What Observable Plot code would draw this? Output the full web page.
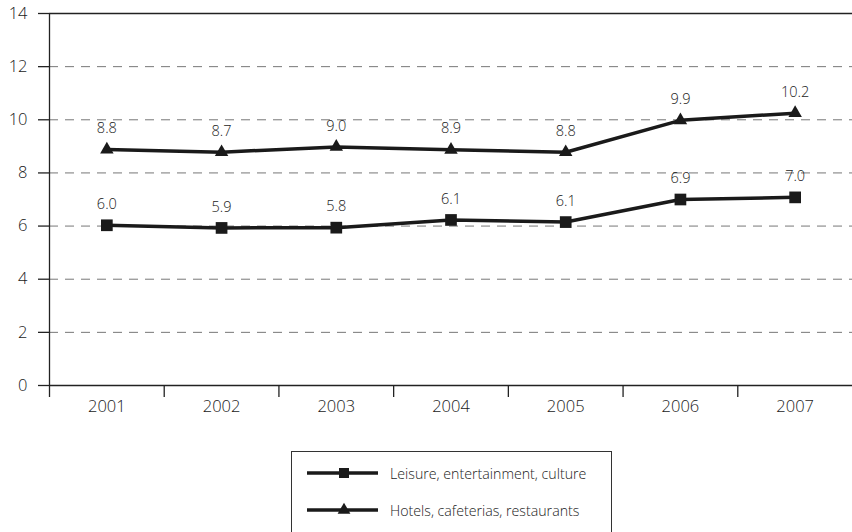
<!DOCTYPE html>
<html>
<head>
<meta charset="utf-8">
<script src="https://cdn.jsdelivr.net/npm/d3@7"></script>
<script src="https://cdn.jsdelivr.net/npm/@observablehq/plot@0.6"></script>
<style>
  html, body { margin: 0; padding: 0; background: #fff; }
  body { width: 852px; height: 532px; position: relative; overflow: hidden; font-family: "Open Sans", "Noto Sans", sans-serif; }
  #chart { position: absolute; left: 0; top: 0; }
  #legend { position: absolute; left: 291px; top: 451px; width: 321px; height: 95px; border: 1px solid #333; box-sizing: border-box; background: #fff; }
  .row { position: absolute; left: 15px; height: 20px; display: flex; align-items: center; font-size: 14.2px; font-weight: 300; color: #1a1a1a; }
  .row svg { margin-right: 11px; }
</style>
</head>
<body>
<div id="chart"></div>
<div id="legend"></div>
<script>
const years = [2001, 2002, 2003, 2004, 2005, 2006, 2007];
const seriesNames = ["Leisure, entertainment, culture", "Hotels, cafeterias, restaurants"];
const leisure = [6.03, 5.93, 5.94, 6.23, 6.15, 7.0, 7.08];
const hotels = [8.88, 8.78, 8.98, 8.87, 8.78, 9.98, 10.25];
const leisureLabels = ["6.0", "5.9", "5.8", "6.1", "6.1", "6.9", "7.0"];
const hotelsLabels = ["8.8", "8.7", "9.0", "8.9", "8.8", "9.9", "10.2"];
const yTicks = [0, 2, 4, 6, 8, 10, 12, 14];

const data = [
  ...years.map((year, i) => ({year, value: leisure[i], label: leisureLabels[i], series: seriesNames[0]})),
  ...years.map((year, i) => ({year, value: hotels[i], label: hotelsLabels[i], series: seriesNames[1]}))
];
const boundaries = years.map(y => y - 0.5);
const ink = "#1a1a1a";

const chart = Plot.plot({
  width: 852,
  height: 420,
  marginLeft: 49,
  marginRight: 0,
  marginTop: 13,
  marginBottom: 35,
  style: {fontFamily: "'Open Sans', 'Noto Sans', sans-serif", fontSize: "16px", fontWeight: 300, color: "#222", background: "transparent"},
  x: {type: "linear", domain: [years[0] - 0.5, years[years.length - 1] + 0.5]},
  y: {domain: [yTicks[0], yTicks[yTicks.length - 1]]},
  marks: [
    Plot.ruleY(yTicks.slice(1, -1), {stroke: "#777", strokeWidth: 1, strokeDasharray: "9,7"}),
    Plot.ruleY([yTicks[0], yTicks[yTicks.length - 1]], {stroke: "#222", strokeWidth: 1.3}),
    Plot.ruleX([boundaries[0]], {stroke: "#222", strokeWidth: 1.3}),
    Plot.axisY({ticks: yTicks, tickSize: 11, tickFormat: () => "", label: null, strokeWidth: 1.3, stroke: "#222"}),
    Plot.axisY({ticks: yTicks, tickSize: 0, tickPadding: 22, tickFormat: d => String(d), label: null, fontSize: 16.5, fill: "#1a1a1a"}),
    Plot.axisX({ticks: boundaries, tickSize: 12, tickFormat: () => "", label: null, strokeWidth: 1.3, stroke: "#222"}),
    Plot.axisX({ticks: years, tickSize: 0, tickPadding: 15, tickFormat: d => String(d), label: null, fontSize: 16.5, fill: "#1a1a1a"}),
    Plot.line(data, {x: "year", y: "value", z: "series", stroke: ink, strokeWidth: 3.5}),
    Plot.dot(data.filter(d => d.series === seriesNames[0]), {x: "year", y: "value", symbol: () => "square", fill: ink, r: 6.6}),
    Plot.dot(data.filter(d => d.series === seriesNames[1]), {x: "year", y: "value", symbol: () => "triangle", fill: ink, r: 5}),
    Plot.text(data, {x: "year", y: "value", text: "label", dy: -21, fontSize: 14.5, fill: "#1a1a1a"})
  ]
});
document.getElementById("chart").appendChild(chart);

const legend = document.getElementById("legend");
const symbols = [d3.symbolSquare, d3.symbolTriangle];
const sizes = [100, 70];
const tops = [11, 48];
seriesNames.forEach((name, i) => {
  const row = document.createElement("div");
  row.className = "row";
  row.style.top = tops[i] + "px";
  const svg = d3.create("svg").attr("width", 72).attr("height", 20);
  svg.append("line").attr("x1", 0).attr("x2", 71).attr("y1", 10).attr("y2", 10).attr("stroke", ink).attr("stroke-width", 3.5);
  svg.append("path").attr("d", d3.symbol(symbols[i], sizes[i])()).attr("transform", "translate(37,10)").attr("fill", ink);
  row.appendChild(svg.node());
  const span = document.createElement("span");
  span.textContent = name;
  row.appendChild(span);
  legend.appendChild(row);
});
</script>
</body>
</html>
